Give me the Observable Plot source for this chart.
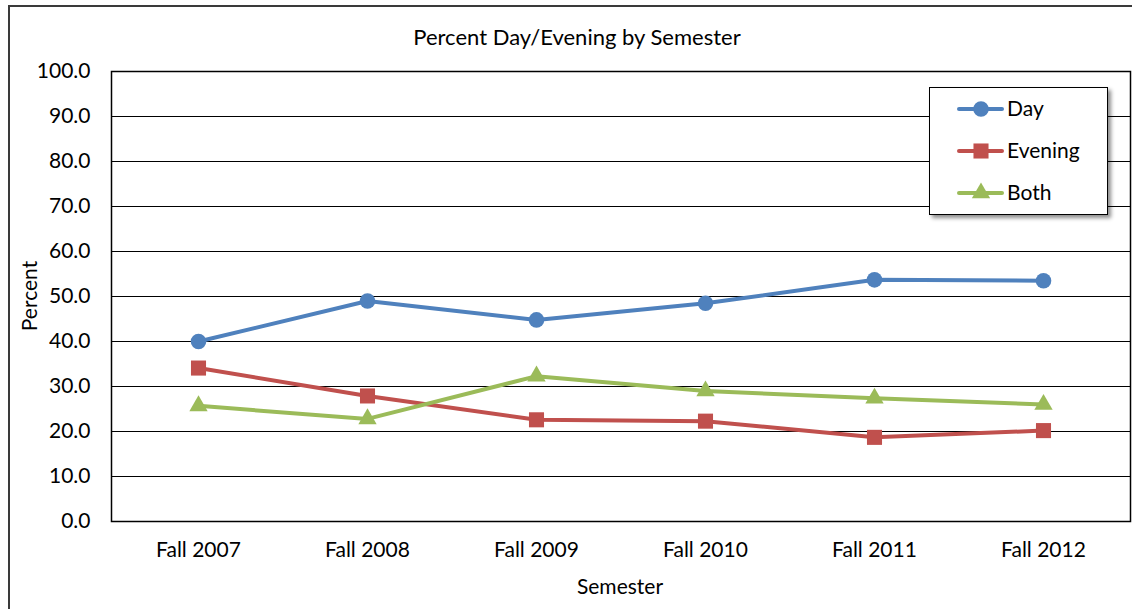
<!DOCTYPE html>
<html><head><meta charset="utf-8">
<script src="https://cdn.jsdelivr.net/npm/d3@7"></script>
<script src="https://cdn.jsdelivr.net/npm/@observablehq/plot@0.6"></script>
<style>
body{margin:0;background:#fff;font-family:Lato,sans-serif;color:#000;}
#wrap{position:relative;width:1132px;height:609px;overflow:hidden;background:#fff;}
#chart{position:absolute;left:0;top:0;}
#frame{position:absolute;left:8px;top:5px;width:1136px;height:700px;border:2px solid #3a3a3a;box-sizing:border-box;pointer-events:none;}
.lbl{position:absolute;font-size:21px;white-space:nowrap;line-height:1;}
#title{left:577px;top:37px;transform:translate(-50%,-50%);font-size:22px;}
#xtitle{left:620px;top:585px;transform:translate(-50%,-50%);}
#ytitle{left:28px;top:296px;transform:translate(-50%,-50%) rotate(-90deg);}
#legend{position:absolute;left:929px;top:87px;width:179px;height:128px;border:1px solid #000;box-sizing:border-box;background:#fff;box-shadow:3px 3px 4px rgba(0,0,0,0.45);}
</style></head><body>
<div id="wrap">
<div id="chart"></div>
<div id="frame"></div>
<div id="title" class="lbl">Percent Day/Evening by Semester</div>
<div id="xtitle" class="lbl">Semester</div>
<div id="ytitle" class="lbl">Percent</div>
<div id="legend"></div>
</div>
<script>
const semesters = ["Fall 2007","Fall 2008","Fall 2009","Fall 2010","Fall 2011","Fall 2012"];
const seriesNames = ["Day","Evening","Both"];
const dayValues = [40.0, 49.0, 44.8, 48.5, 53.7, 53.5];
const eveningValues = [34.1, 27.9, 22.6, 22.3, 18.7, 20.2];
const bothValues = [25.7, 22.8, 32.3, 29.0, 27.4, 26.0];
const yTicks = [0,10,20,30,40,50,60,70,80,90,100];
const seriesColors = ["#4F81BD","#C0504D","#9BBB59"];
const seriesSymbols = ["circle","square","triangle"];
const seriesR = [7.8, 8.5, 6.8];

const valuesBySeries = [dayValues, eveningValues, bothValues];
const rows = [];
seriesNames.forEach((s, i) => semesters.forEach((sem, j) => rows.push({series: s, semester: sem, value: valuesBySeries[i][j]})));

const marks = [
  Plot.gridY(yTicks, {stroke: "#000", strokeOpacity: 1, strokeWidth: 1.2}),
  Plot.frame({stroke: "#000", strokeWidth: 1.5}),
  Plot.axisY(yTicks, {tickSize: 0, tickPadding: 21, tickFormat: d3.format(".1f"), fontSize: 21, label: null}),
  Plot.axisX({tickSize: 0, tickPadding: 21, fontSize: 21, label: null})
];
seriesNames.forEach((s, i) => {
  const data = rows.filter(d => d.series === s);
  marks.push(Plot.line(data, {x: "semester", y: "value", stroke: seriesColors[i], strokeWidth: 4}));
  marks.push(Plot.dot(data, {x: "semester", y: "value", fill: seriesColors[i], stroke: "none", symbol: seriesSymbols[i], r: seriesR[i]}));
});

const chart = Plot.plot({
  width: 1132, height: 609,
  marginLeft: 111, marginRight: 2, marginTop: 71, marginBottom: 88,
  style: {fontFamily: "Lato, sans-serif", fontSize: "21px", color: "#000", background: "transparent"},
  x: {type: "point", domain: semesters, padding: 0.5},
  y: {domain: [0, 100]},
  marks
});
document.getElementById("chart").appendChild(chart);

// Legend
const leg = d3.select("#legend").append("svg").attr("width", 177).attr("height", 126).style("display","block");
seriesNames.forEach((s, i) => {
  const g = leg.append("g").attr("transform", `translate(0,${21 + i * 42})`);
  g.append("line").attr("x1", 29).attr("x2", 72).attr("y1", 0).attr("y2", 0)
    .attr("stroke", seriesColors[i]).attr("stroke-width", 4).attr("stroke-linecap","round");
  g.append("path").attr("transform", "translate(51,0)")
    .attr("d", d3.symbol(seriesSymbols[i] === "circle" ? d3.symbolCircle : seriesSymbols[i] === "square" ? d3.symbolSquare : d3.symbolTriangle, Math.PI * seriesR[i] * seriesR[i])())
    .attr("fill", seriesColors[i]);
  g.append("text").attr("x", 77).attr("y", 0).attr("dy", "0.35em").attr("font-size", 21).attr("font-family", "Lato, sans-serif").text(s);
});
</script>
</body></html>
